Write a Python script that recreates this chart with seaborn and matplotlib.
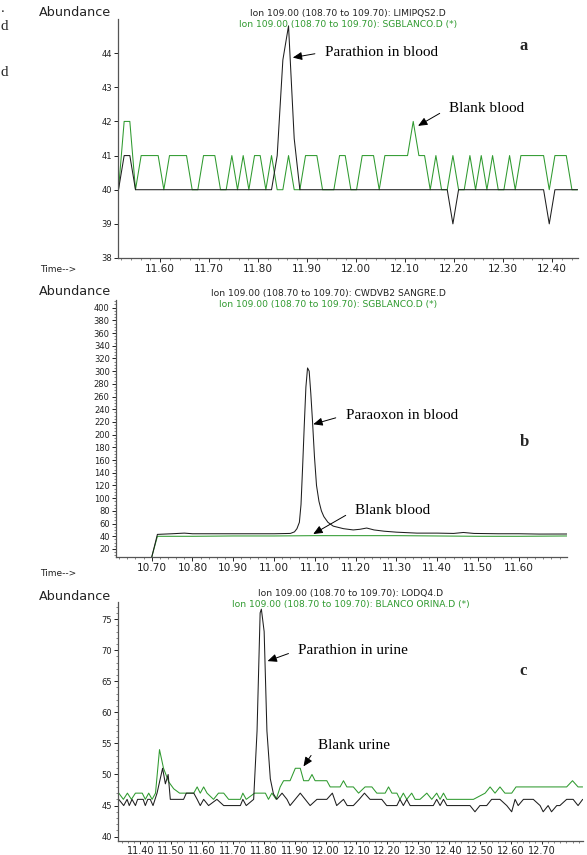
import numpy as np
import pandas as pd
import matplotlib
matplotlib.use("Agg")
import matplotlib.pyplot as plt
from matplotlib.ticker import MultipleLocator, FixedLocator, FormatStrFormatter
import seaborn as sns

# ------------------------------------------------------------------ #
# Data (ion 109, SIM)
# ------------------------------------------------------------------ #

# panel a: one value per scan, scans start at a_start every a_scan min
a_start = 11.515
a_scan = 0.01157
a_blank = [40, 42, 42, 40, 41, 41, 41, 41, 40, 41,
           41, 41, 41, 40, 40, 41, 41, 41, 40, 40,
           41, 40, 41, 40, 41, 41, 40, 41, 40, 40,
           41, 40, 40, 41, 41, 41, 40, 40, 40, 41,
           41, 40, 40, 41, 41, 41, 40, 41, 41, 41,
           41, 41, 42, 41, 41, 40, 41, 40, 40, 41,
           40, 40, 41, 40, 41, 40, 41, 40, 40, 41,
           40, 41, 41, 41, 41, 41, 40, 41, 41, 41,
           40, 40]
a_sample = [40, 41, 41, 40, 40, 40, 40, 40, 40, 40,
            40, 40, 40, 40, 40, 40, 40, 40, 40, 40,
            40, 40, 40, 40, 40, 40, 40, 40, 41, 43.8,
            44.8, 41.5, 40, 40, 40, 40, 40, 40, 40, 40,
            40, 40, 40, 40, 40, 40, 40, 40, 40, 40,
            40, 40, 40, 40, 40, 40, 40, 40, 40, 39,
            40, 40, 40, 40, 40, 40, 40, 40, 40, 40,
            40, 40, 40, 40, 40, 40, 39, 40, 40, 40,
            40, 40]

# panel b: paraoxon in blood
b_sample_t = [10.700, 10.714, 10.750, 10.780, 10.800, 10.900, 11.000, 11.040, 11.050, 11.056,
              11.062, 11.066, 11.070, 11.074, 11.078, 11.082, 11.086, 11.090, 11.094, 11.099,
              11.104, 11.110, 11.116, 11.122, 11.132, 11.145, 11.170, 11.194, 11.210, 11.227,
              11.245, 11.270, 11.300, 11.350, 11.400, 11.440, 11.464, 11.490, 11.550, 11.600,
              11.650, 11.718]
b_sample = [7, 43, 44, 45, 44, 44, 44, 44.5, 47, 52,
            62, 90, 150, 215, 275, 305, 300, 265, 223, 165,
            120, 95, 80, 71, 62, 56, 52, 50, 51, 53,
            50, 48, 46.5, 45, 45, 44.5, 46, 44.5, 44, 44,
            43.5, 43.6]
b_blank_t = [10.700, 10.714, 10.800, 10.900, 11.000, 11.100, 11.200, 11.300, 11.400, 11.500,
             11.600, 11.718]
b_blank = [7, 40, 40, 40.5, 40.5, 41, 41, 41, 40.5, 40,
           40, 40.5]

# panel c: parathion in urine
c_sample_t = [11.330, 11.346, 11.357, 11.364, 11.373, 11.384, 11.391, 11.409, 11.416, 11.424,
              11.432, 11.441, 11.454, 11.472, 11.481, 11.490, 11.497, 11.540, 11.549, 11.573,
              11.584, 11.594, 11.605, 11.621, 11.648, 11.670, 11.724, 11.732, 11.743, 11.767,
              11.778, 11.788, 11.792, 11.801, 11.810, 11.821, 11.831, 11.842, 11.859, 11.875,
              11.885, 11.918, 11.950, 11.972, 12.004, 12.022, 12.036, 12.058, 12.070, 12.090,
              12.109, 12.126, 12.144, 12.182, 12.198, 12.231, 12.241, 12.252, 12.263, 12.274,
              12.349, 12.360, 12.371, 12.382, 12.393, 12.468, 12.484, 12.500, 12.522, 12.538,
              12.565, 12.587, 12.603, 12.614, 12.624, 12.641, 12.673, 12.695, 12.705, 12.721,
              12.732, 12.749, 12.759, 12.781, 12.802, 12.818, 12.833]
c_sample = [46, 45, 46, 45, 46, 45, 46, 46, 45, 46,
            46, 45, 47, 51, 48.5, 50, 46, 46, 47, 47,
            46, 45, 46, 45, 46, 45, 45, 46, 45, 46,
            57, 76, 76.6, 73, 57, 49.3, 46.9, 46, 47, 46,
            45, 47, 45, 46, 46, 47, 45, 46, 45, 45,
            46, 47, 46, 46, 45, 45, 46, 45, 46, 45,
            45, 46, 45, 46, 45, 45, 44, 45, 45, 46,
            46, 45, 44, 46, 45, 46, 46, 45, 44, 45,
            44, 45, 45, 46, 46, 45, 46]
c_blank_t = [11.330, 11.345, 11.358, 11.371, 11.384, 11.406, 11.416, 11.427, 11.438, 11.449,
             11.462, 11.475, 11.492, 11.508, 11.527, 11.573, 11.584, 11.594, 11.605, 11.616,
             11.637, 11.653, 11.670, 11.686, 11.724, 11.732, 11.743, 11.770, 11.805, 11.815,
             11.826, 11.840, 11.853, 11.864, 11.885, 11.902, 11.918, 11.929, 11.945, 11.956,
             11.966, 12.004, 12.015, 12.047, 12.058, 12.069, 12.090, 12.107, 12.128, 12.150,
             12.166, 12.193, 12.204, 12.215, 12.231, 12.241, 12.252, 12.263, 12.279, 12.290,
             12.306, 12.328, 12.344, 12.360, 12.371, 12.382, 12.393, 12.479, 12.517, 12.533,
             12.549, 12.565, 12.581, 12.603, 12.617, 12.781, 12.800, 12.818, 12.833]
c_blank = [47, 46, 47, 46, 47, 47, 46, 47, 46, 47,
           54, 51, 48.8, 47.7, 47, 47, 48, 47, 48, 47,
           46, 47, 47, 46, 46, 47, 46, 47, 47, 46,
           47, 46, 48, 49, 49, 51, 51, 49, 49, 50,
           49, 49, 48, 48, 49, 48, 48, 47, 48, 48,
           47, 47, 48, 47, 47, 46, 47, 46, 47, 46,
           46, 47, 46, 47, 46, 47, 46, 46, 47, 48,
           47, 48, 47, 47, 48, 48, 49, 48, 48]

headers = {
    "a": ("Ion 109.00 (108.70 to 109.70): LIMIPQS2.D",
          "Ion 109.00 (108.70 to 109.70): SGBLANCO.D (*)"),
    "b": ("Ion 109.00 (108.70 to 109.70): CWDVB2 SANGRE.D",
          "Ion 109.00 (108.70 to 109.70): SGBLANCO.D (*)"),
    "c": ("Ion 109.00 (108.70 to 109.70): LODQ4.D",
          "Ion 109.00 (108.70 to 109.70): BLANCO ORINA.D (*)"),
}

# ------------------------------------------------------------------ #
# Figure
# ------------------------------------------------------------------ #
W, H = 587, 855
GREEN = "#2f9a2f"
DARK = "#1e1e1e"
AXC = "#555555"
SERIF = "Liberation Serif"

sns.set_style("ticks")
plt.rcParams["font.family"] = ["DejaVu Sans"]

fig = plt.figure(figsize=(W / 100, H / 100), dpi=100)


def px(x, y):
    # pixel position (from top-left) -> figure fraction
    return x / W, 1 - y / H


def make_axes(left, top, right, bottom):
    return fig.add_axes([left / W, 1 - bottom / H, (right - left) / W, (bottom - top) / H])


def style(ax, xlim, ylim, xmajor, xminor, ymajor, yminor, xsize=7.6):
    ax.set_xlim(*xlim)
    ax.set_ylim(*ylim)
    ax.xaxis.set_major_locator(FixedLocator(xmajor))
    ax.xaxis.set_minor_locator(MultipleLocator(xminor))
    ax.xaxis.set_major_formatter(FormatStrFormatter("%.2f"))
    ax.yaxis.set_major_locator(FixedLocator(ymajor))
    if yminor:
        ax.yaxis.set_minor_locator(MultipleLocator(yminor))
    ax.set_xlabel("")
    ax.set_ylabel("")
    sns.despine(ax=ax)
    for s in ("left", "bottom"):
        ax.spines[s].set_color(AXC)
        ax.spines[s].set_linewidth(0.9)
    ax.tick_params(which="major", length=3, width=0.7, color=AXC, pad=1.5)
    ax.tick_params(which="minor", length=1.6, width=0.5, color=AXC)
    ax.tick_params(axis="x", labelsize=xsize, colors="#222222")
    ax.tick_params(axis="y", labelsize=6, colors="#222222")
    ax.tick_params(which="minor", color=AXC)


def trace(ax, t, v, color):
    df = pd.DataFrame({"t": t, "v": v})
    sns.lineplot(data=df, x="t", y="v", ax=ax, color=color, linewidth=0.75,
                 estimator=None, legend=False)


def arrow(ax, label, tip, txt_xy):
    ax.annotate(label, xy=tip, xycoords="data", xytext=px(*txt_xy),
                textcoords="figure fraction", ha="left", va="center",
                fontsize=11, family=SERIF, color="black",
                arrowprops=dict(arrowstyle="-|>,head_length=0.5,head_width=0.22",
                                color="black", lw=0.7, shrinkA=5, shrinkB=0,
                                relpos=(0, 0.5)))


def header(key, cx, y1, y2):
    fig.text(*px(cx, y1), headers[key][0], ha="center", va="center", fontsize=6.6, color="#222222")
    fig.text(*px(cx, y2), headers[key][1], ha="center", va="center", fontsize=6.6, color=GREEN)


# ---- panel a ------------------------------------------------------ #
ax_a = make_axes(118, 19, 578, 258)
t_a = a_start + a_scan * np.arange(len(a_blank))
trace(ax_a, t_a, a_blank, GREEN)
trace(ax_a, t_a, a_sample, DARK)
style(ax_a, (11.514, 12.453), (38, 45),
      np.round(np.arange(11.60, 12.41, 0.10), 2), 0.02, [38, 39, 40, 41, 42, 43, 44], None)
header("a", 348, 13.5, 24.5)
arrow(ax_a, "Parathion in blood", (11.8708, 43.87), (325, 52))
arrow(ax_a, "Blank blood", (12.1265, 41.87), (449, 108))
fig.text(*px(524, 46), "a", ha="center", va="center", fontsize=12, fontweight="bold", family=SERIF)
fig.text(*px(39, 12), "Abundance", ha="left", va="center", fontsize=9.2, color="#222222")
fig.text(*px(40, 270), "Time-->", ha="left", va="center", fontsize=6.5, color="#222222")

# ---- panel b ------------------------------------------------------ #
ax_b = make_axes(116, 300, 567, 557)
trace(ax_b, b_blank_t, b_blank, GREEN)
trace(ax_b, b_sample_t, b_sample, DARK)
style(ax_b, (10.6125, 11.718), (7.4, 412),
      np.round(np.arange(10.70, 11.61, 0.10), 2), 0.02, list(range(20, 401, 20)), 5)
header("b", 328, 293.5, 304.5)
arrow(ax_b, "Paraoxon in blood", (11.096, 216.4), (345.7, 415))
arrow(ax_b, "Blank blood", (11.096, 43.6), (355, 510))
fig.text(*px(524, 441.7), "b", ha="center", va="center", fontsize=12, fontweight="bold", family=SERIF)
fig.text(*px(39, 291.7), "Abundance", ha="left", va="center", fontsize=9.2, color="#222222")
fig.text(*px(40, 573), "Time-->", ha="left", va="center", fontsize=6.5, color="#222222")

# ---- panel c ------------------------------------------------------ #
ax_c = make_axes(118.3, 601.7, 583, 841)
trace(ax_c, c_blank_t, c_blank, GREEN)
trace(ax_c, c_sample_t, c_sample, DARK)
style(ax_c, (11.3285, 12.834), (39.3, 77.8),
      np.round(np.arange(11.40, 12.71, 0.10), 2), 0.02, [40, 45, 50, 55, 60, 65, 70, 75], 1,
      xsize=7)
ax_c.tick_params(axis="x", which="major", length=2.5, pad=0.8)
header("c", 351, 593.5, 604.5)
arrow(ax_c, "Parathion in urine", (11.812, 68.24), (298.3, 650))
arrow(ax_c, "Blank urine", (11.9285, 51.3), (318.3, 745))
fig.text(*px(522.7, 670.7), "c", ha="center", va="center", fontsize=12, fontweight="bold", family=SERIF)
fig.text(*px(39, 596), "Abundance", ha="left", va="center", fontsize=9.2, color="#222222")

# caption letters from the neighbouring column, at the left edge
fig.text(*px(0.5, 27), "d", ha="left", va="center", fontsize=11, family=SERIF)
fig.text(*px(0.5, 72), "d", ha="left", va="center", fontsize=11, family=SERIF)
fig.text(*px(0.5, 9), ".", ha="left", va="center", fontsize=11, family=SERIF)

fig.savefig("out.png", dpi=100)
